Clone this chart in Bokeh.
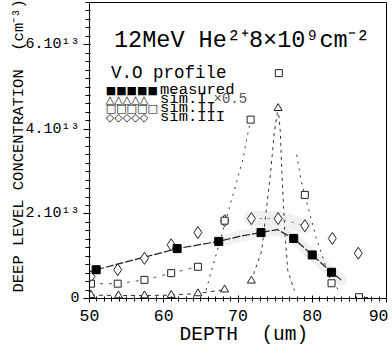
from bokeh.plotting import figure
from bokeh.models import Range1d, Label, SingleIntervalTicker
from bokeh.embed import file_html
from bokeh.resources import INLINE

# ---- data (concentration in units of 1e13 cm^-3, depth in um) ----
meas_x = [50.9, 61.8, 67.4, 73.1, 77.5, 80.0, 82.6]
meas_y = [0.68, 1.18, 1.35, 1.56, 1.42, 1.03, 0.62]
meas_curve_x = [50.9, 61.8, 67.4, 70.2, 73.1, 75.3, 77.5, 80.0, 82.6, 83.9]
meas_curve_y = [0.68, 1.18, 1.35, 1.47, 1.56, 1.63, 1.42, 1.03, 0.62, 0.44]

sim1_x = [50.2, 53.9, 57.4, 61.0, 64.6, 68.2, 71.8, 75.4]
sim1_y = [0.08, 0.07, 0.07, 0.08, 0.12, 0.21, 0.42, 4.50]
sim1_peak_x = [71.8, 73.2, 73.8, 74.4, 74.9, 75.4, 75.7, 75.9, 76.3, 76.7, 77.6]
sim1_peak_y = [0.42, 1.13, 2.07, 3.00, 3.95, 4.50, 3.95, 3.00, 1.60, 0.66, 0.19]

sim2_x = [50.2, 53.8, 57.4, 61.0, 64.6, 68.2, 71.7, 75.5, 79.0, 82.6, 86.3]
sim2_y = [0.35, 0.35, 0.44, 0.60, 0.75, 1.84, 4.23, 5.33, 2.45, 0.36, 0.03]
sim2_rise_x = [65.7, 68.2, 70.6, 71.7]
sim2_rise_y = [0.20, 1.75, 3.25, 4.23]
sim2_fall_x = [77.9, 78.5, 79.0, 80.5, 82.6, 83.7]
sim2_fall_y = [3.40, 2.80, 2.45, 1.45, 0.36, 0.19]
sim2_tail_x = [86.3, 87.8]
sim2_tail_y = [0.03, 0.02]

sim3_x = [50.2, 53.8, 57.4, 61.0, 64.6, 68.2, 71.8, 75.4, 79.0, 82.7, 86.2]
sim3_y = [0.52, 0.68, 0.95, 1.27, 1.56, 1.84, 1.89, 1.89, 1.72, 1.42, 1.07]

y_tick_labels = {0: "0", 2: "2.10\u00b9\u00b3", 4: "4.10\u00b9\u00b3", 6: "6.10\u00b9\u00b3"}

MONO = "Liberation Mono"

p = figure(width=388, height=348, x_range=Range1d(50, 90), y_range=Range1d(0, 7),
           output_backend="svg", toolbar_location=None,
           min_border_left=89, min_border_right=2, min_border_top=2, min_border_bottom=50)
p.grid.visible = False
p.outline_line_color = "black"
p.outline_line_width = 1
p.background_fill_color = "white"
p.border_fill_color = "white"

# ---- grey smudges ----
p.line([x for x in meas_curve_x if x >= 67], [y for x, y in zip(meas_curve_x, meas_curve_y) if x >= 67],
       line_color="#f0f0f0", line_width=11, line_cap="round")
p.line(sim3_x[6:9], sim3_y[6:9], line_color="#f0f0f0", line_width=15, line_cap="round")

# ---- lines ----
p.line(sim1_x[:6], sim1_y[:6], line_color="#333333", line_width=1, line_dash="4 4")
p.line(sim1_peak_x, sim1_peak_y, line_color="#333333", line_width=1, line_dash="3 4")
p.line(sim2_x[:5], sim2_y[:5], line_color="#555555", line_width=1, line_dash="3 6")
p.line(sim2_rise_x, sim2_rise_y, line_color="#333333", line_width=1, line_dash="2 5")
p.line(sim2_fall_x, sim2_fall_y, line_color="#333333", line_width=1, line_dash="2 5")
p.line(sim2_tail_x, sim2_tail_y, line_color="#333333", line_width=1, line_dash="3 3")
p.line(sim3_x[6:9], sim3_y[6:9], line_color="#999999", line_width=1, line_dash="3 5")
p.line(meas_curve_x, meas_curve_y, line_color="#222222", line_width=1.2, line_dash="8 2")

# ---- markers ----
p.scatter(sim3_x, sim3_y, marker="diamond", size=12, fill_color="white",
          line_color="#222222", line_width=1)
p.scatter(sim2_x, sim2_y, marker="square", size=7, fill_color="white",
          line_color="#222222", line_width=1)
p.scatter(sim1_x, sim1_y, marker="triangle", size=8, fill_color="white",
          line_color="#222222", line_width=1)
p.scatter(meas_x, meas_y, marker="square", size=8, fill_color="black",
          line_color="black")

# ---- axes ----
for ax in (p.xaxis[0], p.yaxis[0]):
    ax.axis_line_color = "black"
    ax.major_tick_line_color = "black"
    ax.minor_tick_line_color = "black"
    ax.axis_label_text_font = MONO
    ax.axis_label_text_font_style = "normal"
    ax.axis_label_text_color = "black"
    ax.major_label_text_font = MONO
    ax.major_label_text_color = "black"

p.xaxis.ticker = SingleIntervalTicker(interval=10, num_minor_ticks=10)
p.xaxis.major_tick_in = 3
p.xaxis.major_tick_out = 4
p.xaxis.minor_tick_in = 2
p.xaxis.minor_tick_out = 3
p.xaxis.major_label_text_font_size = "16.5px"
p.xaxis.major_label_standoff = 7
p.xaxis.axis_label = "\u00a0DEPTH\u00a0\u00a0(um)"
p.xaxis.axis_label_text_font_size = "19.5px"
p.xaxis.axis_label_standoff = 0

p.yaxis.ticker = SingleIntervalTicker(interval=2, num_minor_ticks=10)
p.yaxis.major_label_overrides = y_tick_labels
p.yaxis.major_tick_in = 1
p.yaxis.major_tick_out = 6
p.yaxis.minor_tick_in = 1
p.yaxis.minor_tick_out = 4
p.yaxis.major_label_text_font_size = "15px"
p.yaxis.major_label_standoff = 4
p.yaxis.axis_label = "\u00a0DEEP LEVEL CONCENTRATION\u00a0\u00a0(cm\u207b\u00b3)"
p.yaxis.axis_label_text_font_size = "15.5px"
p.yaxis.axis_label_standoff = -6

# ---- texts (positions in data coordinates of the frame) ----
p.add_layout(Label(x=53.3, y=6.10, text="12MeV He\u00b2\u207a8\u00d710\u2079cm\u207b\u00b2",
                   text_font=MONO, text_font_size="23.5px", text_color="black",
                   text_baseline="alphabetic"))
p.add_layout(Label(x=52.9, y=5.34, text="V.O profile",
                   text_font=MONO, text_font_size="17.5px", text_color="black",
                   text_baseline="alphabetic"))

leg_rows = [("\u25a0\u25a0\u25a0\u25a0\u25a0", "measured", 4.93),
            ("\u25b3\u25b3\u25b3\u25b3\u25b3", "sim.I", 4.72),
            ("\u25a1\u25a1\u25a1\u25a1\u25a1", "sim.II", 4.51),
            ("\u25c7\u25c7\u25c7\u25c7\u25c7", "sim.III", 4.30)]
for sym, lab, yy in leg_rows:
    p.add_layout(Label(x=52.2, y=yy - 0.02, text=sym, text_font="DejaVu Sans",
                       text_font_size="11px", text_color="black", text_baseline="alphabetic"))
    p.add_layout(Label(x=59.5, y=yy, text=lab, text_font=MONO,
                       text_font_size="15.5px", text_color="black", text_baseline="alphabetic"))
p.add_layout(Label(x=66.7, y=4.72, text="\u00d70.5", text_font=MONO,
                   text_font_size="14px", text_color="#555555", text_baseline="alphabetic"))

open("out.html", "w").write(file_html(p, INLINE))
